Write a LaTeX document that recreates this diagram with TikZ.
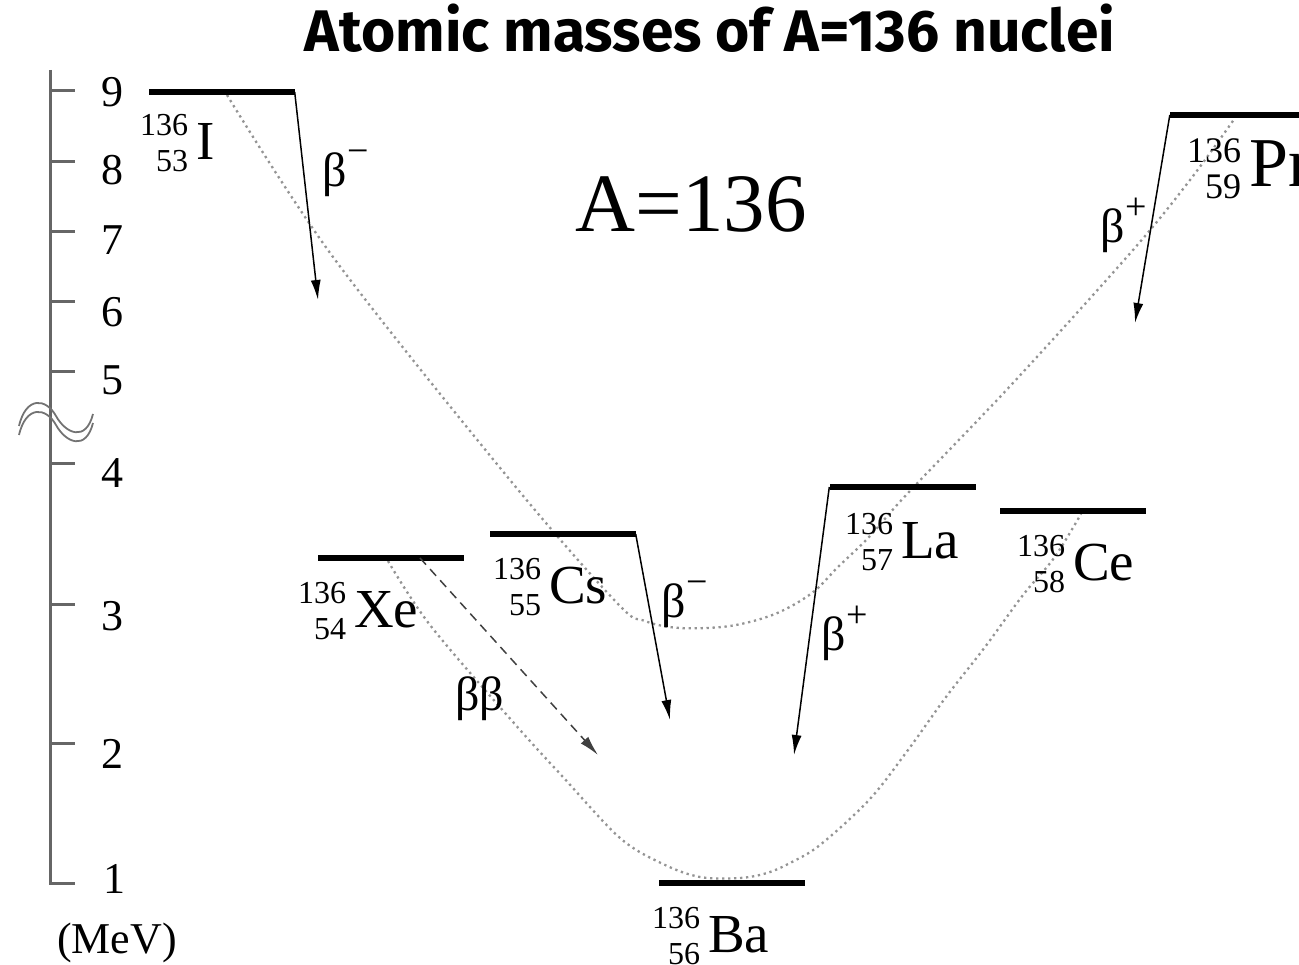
\documentclass[tikz,border=0pt]{standalone}
\usepackage{fontspec}
\setmainfont{Liberation Serif}
\newfontfamily\titlefont{Fira Sans}
\usetikzlibrary{arrows.meta}
\newcommand{\digsz}{32}
\newcommand{\symsz}{55}
\newcommand{\nuclide}[3]{{\fontsize{\digsz}{36}\selectfont\raisebox{-12pt}{\begin{tabular}[b]{@{}r@{}}#1\\#2\end{tabular}}}\kern8pt{\fontsize{\symsz}{\symsz}\selectfont #3}}
\newcommand{\betaof}[1]{β\kern1pt\raisebox{23pt}{\fontsize{38}{38}\selectfont #1}}
\tikzset{
  level/.style={fill=black, draw=none, inner sep=0pt, minimum height=6pt, minimum width=146pt},
  nuc/.style={anchor=base west, inner sep=0pt},
  blab/.style={anchor=base west, inner sep=0pt, font=\fontsize{48}{48}\selectfont},
  decay/.style={-{Latex[length=20pt,width=10pt]}, line width=1.5pt, draw=black},
  bbdecay/.style={decay, draw=black!75, dash pattern=on 9pt off 6pt},
  guide/.style={draw=black!42, line width=2.3pt, dash pattern=on 2.3pt off 3.7pt},
  axisline/.style={draw=black!60, line width=3pt},
  ticklab/.style={anchor=base, inner sep=0pt, font=\fontsize{44}{44}\selectfont, text=black},
  brk/.style={draw=black!55, line width=1.8pt}
}
\begin{document}
\begin{tikzpicture}[x=1pt, y=-1pt]
\useasboundingbox (0,0) rectangle (1299,965);

% title
\node[anchor=base, inner sep=0pt] (title) at (710,52)
  {\resizebox{810pt}{!}{\titlefont\bfseries\fontsize{54}{54}\selectfont Atomic masses of A=136 nuclei}};

% axis
\coordinate (atop) at (50,70);
\coordinate (abot) at (50,883);
\draw[axisline] (atop) -- (abot) -- ++(25,0);
\foreach \yy in {91,162,232,302,372,464,604,743} \draw[axisline] (50,\yy) -- ++(25,0);
\node[ticklab] (t9) at (112,107) {9};
\node[ticklab] (t8) at (112,185) {8};
\node[ticklab] (t7) at (112,255) {7};
\node[ticklab] (t6) at (112,327) {6};
\node[ticklab] (t5) at (112,395) {5};
\node[ticklab] (t4) at (112,487) {4};
\node[ticklab] (t3) at (112,630) {3};
\node[ticklab] (t2) at (112,768) {2};
\node[ticklab] (t1) at (114,893) {1};
\node[inner sep=0pt, font=\fontsize{44}{44}\selectfont, text=black] (unit) at (117,943) {(MeV)};
% axis break
\draw[brk] (19,426) .. controls (26,396) and (46,398) .. (56,416) .. controls (66,434) and (86,442) .. (93,414);
\draw[brk] (19,435) .. controls (26,405) and (46,407) .. (56,425) .. controls (66,443) and (86,451) .. (93,423);

% big label
\node[anchor=base, inner sep=0pt, font=\fontsize{83}{83}\selectfont] (Alab) at (691,232) {A=136};

% guide curves
\draw[guide] plot[smooth, tension=0.55] coordinates {(227,95) (333,257) (510,480) (617,603) (645,621) (680,628) (730,626) (775,614) (812,593) (838,567) (869,537) (908,493) (1013,383) (1133,250) (1190,180) (1235,118)};
\draw[guide] plot[smooth, tension=0.55] coordinates {(388,561) (430,625) (513,722) (563,777) (620,838) (663,864) (700,877) (740,878) (767,873) (790,863) (820,845) (869,800) (908,750) (946,697) (985,647) (1023,595) (1054,558) (1081,514)};

% levels
\node[level] (I)  at (221.5,92) {};
\node[level] (Xe) at (390.5,558) {};
\node[level] (Cs) at (562.5,534) {};
\node[level] (Ba) at (731.5,883) {};
\node[level] (La) at (902.5,487) {};
\node[level] (Ce) at (1072.5,511) {};
\node[level, minimum width=130pt] (Pr) at (1235,115) {};

% nuclide labels
\node[nuc] (lI)  at (140,160) {\nuclide{136}{53}{I}};
\node[nuc] (lXe) at (298,627) {\nuclide{136}{54}{Xe}};
\node[nuc] (lCs) at (493,603) {\nuclide{136}{55}{Cs}};
\node[nuc] (lBa) at (652,952) {\nuclide{136}{56}{Ba}};
\node[nuc] (lLa) at (845,558) {\nuclide{136}{57}{La}};
\node[nuc] (lCe) at (1017,580) {\nuclide{136}{58}{Ce}};
\node[nuc] (lPr) at (1187,187) {\renewcommand{\digsz}{36}\renewcommand{\symsz}{70}\nuclide{136}{59}{Pr}};

% decay arrows
\coordinate (Itip)  at (318,300);
\coordinate (Cstip) at (670,720);
\coordinate (Latip) at (794,755);
\coordinate (Prtip) at (1135,323);
\coordinate (Xetail) at (420,558);
\coordinate (Xetip) at (598,755);
\draw[decay] (I.east) -- (Itip);
\draw[decay] (Cs.east) -- (Cstip);
\draw[decay] (La.west) -- (Latip);
\draw[decay] (Pr.west) -- (Prtip);
\draw[bbdecay] (Xetail) -- (Xetip);

% decay labels
\node[blab] (bI)  at (322,187) {\betaof{−}};
\node[blab] (bCs) at (661,617) {\betaof{−}};
\node[blab] (bLa) at (821,650) {\betaof{+}};
\node[blab] (bPr) at (1100,243) {\betaof{+}};
\node[blab] (bXe) at (455,710) {ββ};
\end{tikzpicture}
\end{document}
